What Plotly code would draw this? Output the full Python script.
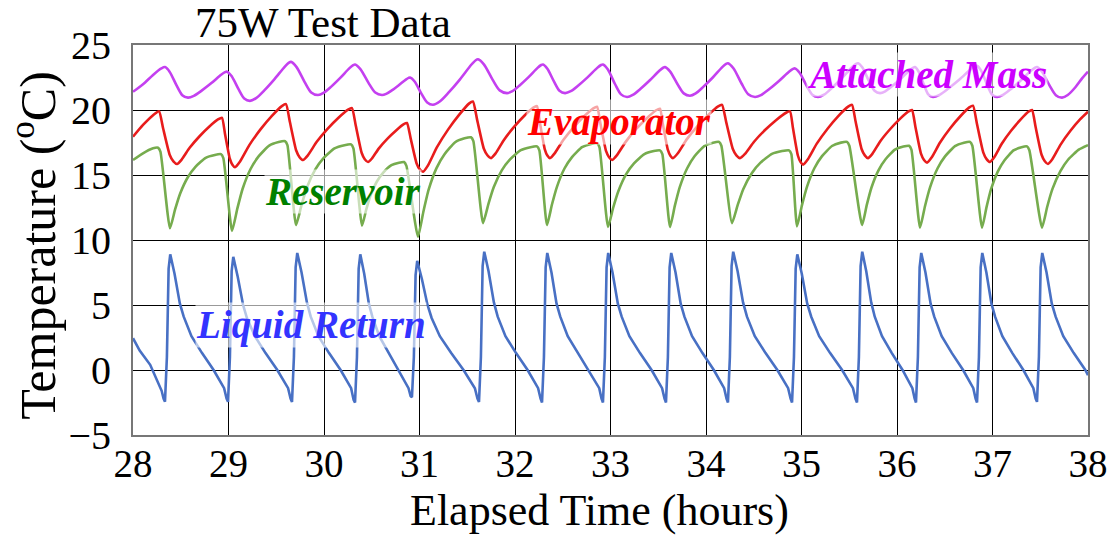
import plotly.graph_objects as go

# ---------------- data ----------------
LR_T = [28.000, 28.070, 28.180, 28.250, 28.300, 28.320,
        28.335, 28.355, 28.373, 28.390, 28.435, 28.491, 28.531, 28.612, 28.723, 28.844, 28.915, 28.954, 28.980,
        28.995, 29.015, 29.033, 29.050, 29.096, 29.153, 29.193, 29.276, 29.388, 29.511, 29.583, 29.624, 29.650,
        29.665, 29.685, 29.703, 29.720, 29.765, 29.821, 29.861, 29.942, 30.053, 30.174, 30.245, 30.284, 30.310,
        30.325, 30.345, 30.363, 30.380, 30.421, 30.470, 30.506, 30.579, 30.678, 30.786, 30.849, 30.885, 30.907,
        30.921, 30.941, 30.959, 30.976, 31.025, 31.084, 31.127, 31.213, 31.332, 31.461, 31.537, 31.580, 31.607,
        31.623, 31.643, 31.661, 31.678, 31.723, 31.779, 31.819, 31.900, 32.011, 32.132, 32.203, 32.242, 32.268,
        32.283, 32.303, 32.321, 32.338, 32.382, 32.435, 32.474, 32.552, 32.659, 32.775, 32.843, 32.882, 32.906,
        32.921, 32.941, 32.959, 32.976, 33.021, 33.077, 33.117, 33.198, 33.309, 33.430, 33.501, 33.540, 33.566,
        33.581, 33.601, 33.619, 33.636, 33.681, 33.735, 33.774, 33.854, 33.963, 34.082, 34.151, 34.190, 34.215,
        34.230, 34.250, 34.268, 34.285, 34.331, 34.388, 34.429, 34.511, 34.624, 34.747, 34.819, 34.860, 34.886,
        34.901, 34.921, 34.939, 34.956, 35.003, 35.060, 35.102, 35.185, 35.300, 35.425, 35.498, 35.539, 35.565,
        35.581, 35.601, 35.619, 35.636, 35.678, 35.730, 35.767, 35.843, 35.946, 36.058, 36.124, 36.161, 36.185,
        36.199, 36.219, 36.237, 36.254, 36.298, 36.352, 36.390, 36.468, 36.575, 36.692, 36.760, 36.799, 36.823,
        36.838, 36.858, 36.876, 36.893, 36.936, 36.989, 37.027, 37.103, 37.208, 37.323, 37.390, 37.428, 37.452,
        37.466, 37.486, 37.504, 37.521, 37.566, 37.621, 37.661, 37.741, 37.851, 37.972, 38.000]
LR_V = [2.45, 1.5, 0.4, -0.7, -1.6, -2.2,
        -2.44, 1.0, 7.8, 8.9, 7.4, 5.1, 4.1, 2.6, 1.3, 0.0, -0.9, -1.4, -2.2,
        -2.45, 1.0, 7.6, 8.7, 7.2, 5.0, 4.0, 2.6, 1.3, 0.0, -0.9, -1.4, -2.2,
        -2.45, 1.0, 7.9, 9.0, 7.5, 5.2, 4.1, 2.6, 1.3, 0.0, -0.9, -1.4, -2.3,
        -2.5, 1.0, 7.8, 8.9, 7.4, 5.1, 4.1, 2.6, 1.3, 0.0, -0.9, -1.4, -2.0,
        -2.1, 1.0, 7.3, 8.4, 7.0, 5.0, 4.0, 2.6, 1.3, 0.0, -0.9, -1.4, -2.2,
        -2.45, 1.0, 8.0, 9.1, 7.6, 5.2, 4.1, 2.6, 1.3, 0.0, -0.9, -1.4, -2.2,
        -2.5, 1.0, 7.9, 9.0, 7.5, 5.1, 4.1, 2.6, 1.3, 0.0, -0.9, -1.4, -2.2,
        -2.5, 1.0, 7.9, 9.0, 7.5, 5.1, 4.1, 2.6, 1.3, 0.0, -0.9, -1.4, -2.2,
        -2.5, 1.0, 7.9, 9.0, 7.5, 5.1, 4.1, 2.6, 1.3, 0.0, -0.9, -1.4, -2.2,
        -2.5, 1.0, 8.0, 9.1, 7.6, 5.2, 4.1, 2.6, 1.3, 0.0, -0.9, -1.4, -2.2,
        -2.5, 1.0, 7.8, 8.9, 7.4, 5.1, 4.1, 2.6, 1.3, 0.0, -0.9, -1.4, -2.2,
        -2.5, 1.0, 8.0, 9.1, 7.6, 5.2, 4.1, 2.6, 1.3, 0.0, -0.9, -1.4, -2.2,
        -2.5, 1.0, 7.9, 9.0, 7.5, 5.1, 4.1, 2.6, 1.3, 0.0, -0.9, -1.4, -2.2,
        -2.5, 1.0, 7.9, 9.0, 7.5, 5.1, 4.1, 2.6, 1.3, 0.0, -0.9, -1.4, -2.2,
        -2.45, 1.0, 7.9, 9.0, 7.5, 5.1, 4.1, 2.6, 1.3, 0.0, -0.4]

RES_T = [28.000, 28.100, 28.210, 28.262, 28.287,
         28.387, 28.440, 28.494, 28.574, 28.654, 28.761, 28.857, 28.921, 28.946,
         29.037, 29.093, 29.148, 29.231, 29.315, 29.426, 29.525, 29.592, 29.617,
         29.707, 29.765, 29.822, 29.909, 29.995, 30.110, 30.214, 30.283, 30.308,
         30.398, 30.442, 30.486, 30.552, 30.618, 30.706, 30.785, 30.838, 30.863,
         30.984, 31.040, 31.095, 31.178, 31.262, 31.373, 31.472, 31.539, 31.564,
         31.665, 31.722, 31.778, 31.863, 31.948, 32.061, 32.162, 32.230, 32.255,
         32.335, 32.387, 32.440, 32.518, 32.597, 32.702, 32.796, 32.859, 32.884,
         32.974, 33.028, 33.083, 33.164, 33.246, 33.355, 33.453, 33.518, 33.543,
         33.623, 33.674, 33.726, 33.803, 33.880, 33.982, 34.074, 34.136, 34.161,
         34.272, 34.332, 34.391, 34.481, 34.571, 34.690, 34.797, 34.869, 34.894,
         34.953, 35.005, 35.058, 35.136, 35.215, 35.319, 35.413, 35.476, 35.501,
         35.634, 35.683, 35.732, 35.806, 35.880, 35.978, 36.067, 36.126, 36.151,
         36.241, 36.293, 36.346, 36.424, 36.503, 36.607, 36.701, 36.764, 36.789,
         36.890, 36.937, 36.984, 37.055, 37.126, 37.220, 37.304, 37.361, 37.386,
         37.518, 37.573, 37.628, 37.711, 37.793, 37.903, 38.000]
RES_V = [16.15, 16.65, 17.05, 17.1, 16.8,
         10.9, 12.33, 13.58, 14.83, 15.63, 16.32, 16.54, 16.6, 16.3,
         10.7, 12.43, 13.94, 15.46, 16.43, 17.26, 17.53, 17.6, 17.3,
         11.15, 12.70, 14.06, 15.43, 16.30, 17.04, 17.29, 17.35, 17.05,
         11.1, 12.33, 13.40, 14.48, 15.17, 15.76, 15.95, 16.0, 15.7,
         10.25, 12.16, 13.85, 15.53, 16.60, 17.52, 17.82, 17.9, 17.6,
         11.3, 12.78, 14.07, 15.37, 16.20, 16.91, 17.14, 17.2, 16.9,
         11.15, 12.73, 14.11, 15.50, 16.38, 17.14, 17.39, 17.45, 17.15,
         11.0, 12.48, 13.77, 15.07, 15.90, 16.61, 16.84, 16.9, 16.6,
         11.0, 12.64, 14.08, 15.52, 16.44, 17.22, 17.48, 17.55, 17.25,
         11.3, 12.70, 13.93, 15.16, 15.95, 16.62, 16.84, 16.9, 16.6,
         11.05, 12.68, 14.11, 15.54, 16.45, 17.23, 17.49, 17.55, 17.25,
         11.15, 12.68, 14.02, 15.36, 16.21, 16.95, 17.19, 17.25, 16.95,
         10.95, 12.60, 14.05, 15.50, 16.43, 17.22, 17.48, 17.55, 17.25,
         10.95, 12.51, 13.89, 15.26, 16.14, 16.89, 17.14, 17.2, 16.9,
         10.95, 12.56, 13.93, 15.30, 16.19, 16.95, 17.3]

EVAP_T = [28.000, 28.105, 28.210, 28.272,
          28.315, 28.385, 28.423, 28.461, 28.508, 28.593, 28.697, 28.800, 28.894, 28.932,
          28.963, 29.014, 29.041, 29.068, 29.121, 29.218, 29.335, 29.452, 29.559, 29.602,
          29.643, 29.709, 29.744, 29.780, 29.831, 29.924, 30.037, 30.149, 30.252, 30.293,
          30.332, 30.394, 30.427, 30.461, 30.502, 30.575, 30.665, 30.755, 30.836, 30.869,
          30.908, 30.970, 31.003, 31.037, 31.089, 31.183, 31.299, 31.414, 31.518, 31.560,
          31.603, 31.673, 31.711, 31.749, 31.797, 31.884, 31.990, 32.095, 32.192, 32.230,
          32.261, 32.312, 32.339, 32.366, 32.415, 32.504, 32.613, 32.721, 32.820, 32.859,
          32.895, 32.953, 32.985, 33.016, 33.066, 33.157, 33.267, 33.377, 33.478, 33.518,
          33.549, 33.600, 33.627, 33.654, 33.705, 33.798, 33.911, 34.024, 34.127, 34.168,
          34.211, 34.281, 34.318, 34.356, 34.408, 34.503, 34.618, 34.733, 34.838, 34.880,
          34.911, 34.962, 34.989, 35.016, 35.067, 35.160, 35.273, 35.385, 35.488, 35.529,
          35.567, 35.629, 35.663, 35.696, 35.742, 35.825, 35.927, 36.028, 36.120, 36.157,
          36.193, 36.251, 36.283, 36.314, 36.362, 36.449, 36.555, 36.661, 36.757, 36.796,
          36.837, 36.903, 36.938, 36.974, 37.018, 37.097, 37.194, 37.291, 37.379, 37.414,
          37.452, 37.514, 37.548, 37.581, 37.628, 37.713, 37.816, 37.919, 38.000]
EVAP_V = [17.95, 18.85, 19.6, 19.9,
          18.60, 16.54, 16.05, 15.85, 16.17, 17.09, 17.98, 18.73, 19.29, 19.4,
          18.18, 16.25, 15.79, 15.6, 16.04, 17.30, 18.51, 19.53, 20.30, 20.45,
          19.07, 16.88, 16.37, 16.15, 16.51, 17.55, 18.55, 19.39, 20.03, 20.15,
          18.82, 16.71, 16.21, 16.0, 16.27, 17.05, 17.80, 18.43, 18.91, 19.0,
          17.80, 15.89, 15.44, 15.25, 15.74, 17.14, 18.49, 19.62, 20.49, 20.65,
          19.26, 17.04, 16.52, 16.3, 16.66, 17.70, 18.70, 19.54, 20.18, 20.3,
          19.02, 16.98, 16.50, 16.3, 16.66, 17.68, 18.67, 19.50, 20.13, 20.25,
          18.94, 16.85, 16.36, 16.15, 16.51, 17.53, 18.52, 19.35, 19.98, 20.1,
          18.88, 16.95, 16.49, 16.3, 16.67, 17.74, 18.76, 19.62, 20.28, 20.4,
          19.09, 17.00, 16.51, 16.3, 16.62, 17.56, 18.46, 19.22, 19.79, 19.9,
          18.59, 16.50, 16.01, 15.8, 16.21, 17.41, 18.56, 19.53, 20.26, 20.4,
          19.09, 17.00, 16.51, 16.3, 16.63, 17.60, 18.52, 19.30, 19.89, 20.0,
          18.70, 16.64, 16.15, 15.95, 16.34, 17.48, 18.58, 19.50, 20.20, 20.33,
          18.94, 16.74, 16.22, 16.0, 16.36, 17.40, 18.40, 19.24, 19.88, 20.0,
          18.67, 16.56, 16.06, 15.85, 16.23, 17.34, 18.40, 19.29, 19.87]

MASS_T = [28.000, 28.105, 28.210, 28.297, 28.335,
          28.383, 28.456, 28.516, 28.576, 28.637, 28.719, 28.821, 28.923, 28.964, 28.984,
          29.032, 29.105, 29.165, 29.225, 29.289, 29.375, 29.482, 29.590, 29.633, 29.654,
          29.711, 29.796, 29.866, 29.937, 29.995, 30.073, 30.170, 30.267, 30.306, 30.325,
          30.381, 30.466, 30.537, 30.607, 30.651, 30.710, 30.783, 30.857, 30.886, 30.901,
          30.949, 31.021, 31.081, 31.141, 31.212, 31.306, 31.424, 31.542, 31.589, 31.613,
          31.674, 31.765, 31.840, 31.916, 31.973, 32.048, 32.142, 32.236, 32.274, 32.293,
          32.339, 32.409, 32.466, 32.524, 32.584, 32.663, 32.762, 32.861, 32.901, 32.921,
          32.971, 33.047, 33.110, 33.173, 33.233, 33.312, 33.412, 33.511, 33.551, 33.571,
          33.623, 33.702, 33.767, 33.832, 33.892, 33.971, 34.071, 34.170, 34.210, 34.230,
          34.287, 34.372, 34.442, 34.513, 34.576, 34.660, 34.764, 34.869, 34.911, 34.932,
          34.980, 35.053, 35.113, 35.173, 35.236, 35.320, 35.424, 35.529, 35.571, 35.592,
          35.638, 35.707, 35.765, 35.822, 35.877, 35.950, 36.042, 36.133, 36.170, 36.188,
          36.226, 36.283, 36.330, 36.377, 36.446, 36.538, 36.654, 36.769, 36.815, 36.838,
          36.880, 36.943, 36.995, 37.047, 37.110, 37.194, 37.298, 37.403, 37.445, 37.466,
          37.518, 37.597, 37.663, 37.728, 37.788, 37.868, 37.940, 38.000]
MASS_V = [21.4, 21.98, 22.7, 23.2, 23.3,
          22.95, 21.89, 21.14, 20.95, 21.09, 21.49, 22.07, 22.71, 22.91, 22.95,
          22.61, 21.60, 20.88, 20.7, 20.91, 21.51, 22.38, 23.34, 23.64, 23.7,
          23.32, 22.17, 21.35, 21.15, 21.31, 21.78, 22.47, 23.22, 23.45, 23.5,
          23.15, 22.09, 21.34, 21.15, 21.24, 21.51, 21.91, 22.34, 22.47, 22.5,
          22.19, 21.24, 20.57, 20.4, 20.65, 21.35, 22.36, 23.48, 23.83, 23.9,
          23.51, 22.34, 21.51, 21.3, 21.45, 21.89, 22.53, 23.24, 23.46, 23.5,
          23.17, 22.18, 21.48, 21.3, 21.45, 21.89, 22.53, 23.24, 23.46, 23.5,
          23.13, 22.0, 21.2, 21.0, 21.16, 21.62, 22.29, 23.02, 23.25, 23.3,
          22.97, 21.98, 21.28, 21.1, 21.28, 21.78, 22.50, 23.30, 23.55, 23.6,
          23.21, 22.04, 21.21, 21.0, 21.15, 21.59, 22.23, 22.94, 23.16, 23.2,
          22.87, 21.88, 21.18, 21.0, 21.18, 21.70, 22.46, 23.29, 23.55, 23.6,
          23.26, 22.22, 21.48, 21.3, 21.44, 21.84, 22.42, 23.06, 23.26, 23.3,
          22.96, 21.92, 21.18, 21.0, 21.17, 21.65, 22.34, 23.11, 23.35, 23.4,
          23.04, 21.96, 21.19, 21.0, 21.16, 21.62, 22.29, 23.02, 23.25, 23.3,
          22.95, 21.89, 21.14, 20.95, 21.15, 21.75, 22.45, 22.95]

X_TICKS = [28, 29, 30, 31, 32, 33, 34, 35, 36, 37, 38]
Y_TICKS = [-5, 0, 5, 10, 15, 20, 25]

SERIES_NAMES = ["Liquid Return", "Reservoir", "Evaporator", "Attached Mass"]

# ---------------- figure ----------------
FONT = "Liberation Serif"
fig = go.Figure()

fig.add_trace(go.Scatter(x=MASS_T, y=MASS_V, mode="lines", name=SERIES_NAMES[3],
                         line=dict(color="rgb(196,64,240)", width=2.6, shape="spline", smoothing=0.8)))
fig.add_trace(go.Scatter(x=RES_T, y=RES_V, mode="lines", name=SERIES_NAMES[1],
                         line=dict(color="rgb(118,172,78)", width=2.6, shape="spline", smoothing=0.5)))
fig.add_trace(go.Scatter(x=EVAP_T, y=EVAP_V, mode="lines", name=SERIES_NAMES[2],
                         line=dict(color="rgb(232,28,28)", width=2.6, shape="spline", smoothing=0.5)))
fig.add_trace(go.Scatter(x=LR_T, y=LR_V, mode="lines", name=SERIES_NAMES[0],
                         line=dict(color="rgb(72,112,196)", width=2.6)))

labels = [
    ("Attached Mass", 36.31, 22.7, "#CC00FF"),
    ("Evaporator", 33.09, 19.1, "#FF0000"),
    ("Reservoir", 30.2, 13.7, "#008000"),
    ("Liquid Return", 29.86, 3.5, "#3333FF"),
]
for txt, x, y, col in labels:
    fig.add_annotation(x=x, y=y, xref="x", yref="y", text="<b><i>" + txt + "</i></b>",
                       showarrow=False, font=dict(family=FONT, size=39, color=col),
                       bgcolor="rgba(255,255,255,0.6)", borderpad=0)

# chart title
fig.add_annotation(x=0.199, y=1.058, xref="paper", yref="paper", text="75W Test Data",
                   showarrow=False, font=dict(family=FONT, size=43, color="black"),
                   xanchor="center", yanchor="middle")
# axis titles
fig.add_annotation(x=0.489, y=-0.193, xref="paper", yref="paper", text="Elapsed Time (hours)",
                   showarrow=False, font=dict(family=FONT, size=44, color="black"),
                   xanchor="center", yanchor="middle")
fig.add_annotation(x=-0.104, y=0.487, xref="paper", yref="paper", text="Temperature (<sup>o</sup>C)",
                   showarrow=False, font=dict(family=FONT, size=50, color="black"),
                   textangle=-90, xanchor="center", yanchor="middle")

fig.update_layout(
    width=1114, height=536,
    margin=dict(l=133, r=26, t=45, b=101, autoexpand=False),
    paper_bgcolor="white", plot_bgcolor="white",
    showlegend=False,
    font=dict(family=FONT, color="black"),
    xaxis=dict(range=[28, 38], tickvals=X_TICKS, ticktext=[str(v) for v in X_TICKS],
               showgrid=True, gridcolor="black", gridwidth=1, zeroline=False,
               showline=True, linecolor="#777", linewidth=2, mirror=True, automargin=False,
               tickfont=dict(family=FONT, size=39), ticks="", ticklabelstandoff=-7),
    yaxis=dict(range=[-5, 25], tickvals=Y_TICKS,
               showgrid=True, gridcolor="black", gridwidth=1, zeroline=False,
               showline=True, linecolor="#777", linewidth=2, mirror=True, automargin=False,
               tickfont=dict(family=FONT, size=40), ticks="", ticklabelstandoff=12),
)

fig.write_html("out.html")
